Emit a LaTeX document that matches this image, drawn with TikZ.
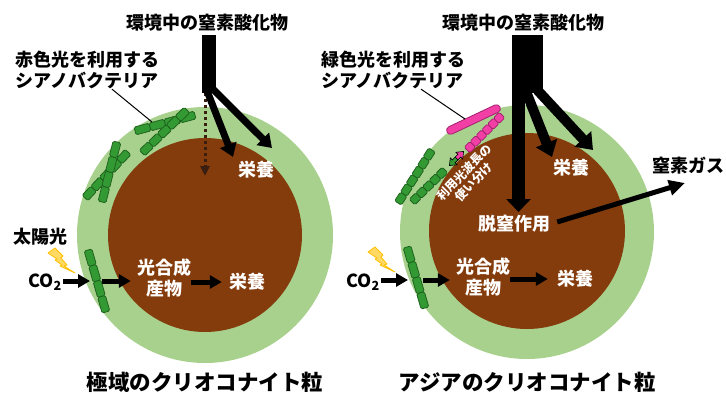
\documentclass[tikz,border=0pt]{standalone}
\usepackage{fontspec}
\setmainfont{Noto Sans CJK JP}
\usepackage{tikz}
\usetikzlibrary{arrows.meta,positioning,calc}

\definecolor{gelgreen}{HTML}{A9D18E}
\definecolor{grainbrown}{HTML}{843C0C}
\definecolor{cellgreen}{HTML}{339933}
\definecolor{celledge}{HTML}{1E641E}
\definecolor{cellpink}{HTML}{F23FA6}
\definecolor{pinkedge}{HTML}{A3226E}
\definecolor{boltyellow}{HTML}{FFD966}
\definecolor{boltedge}{HTML}{FFC000}
\definecolor{dotbrown}{HTML}{3A1E10}

% chain of cells from (#2,#3) to (#4,#5), #6 cells
\newcommand{\filament}[6][cellg]{%
  \pgfmathsetmacro\filang{atan2(#3-#5,#4-#2)}%
  \pgfmathsetmacro\fillen{veclen(#4-#2,#5-#3)/#6}%
  \begin{scope}[shift={(#2,#3)},rotate=\filang]
    \foreach \k in {1,...,#6}
      \draw[#1] ({(\k-1)*\fillen},-4) rectangle ({\k*\fillen},4);
  \end{scope}}

\begin{document}
\begin{tikzpicture}[x=1pt,y=-1pt,
  lbl/.style={font=\bfseries\fontsize{18}{21}\selectfont, inner sep=0pt},
  wlbl/.style={lbl, text=white},
  grainlbl/.style={font=\bfseries\fontsize{21.5}{24}\selectfont, inner sep=0pt},
  cellg/.style={fill=cellgreen, draw=celledge, line width=0.8pt, rounded corners=1.5pt},
  cellp/.style={fill=cellpink, draw=pinkedge, line width=0.8pt, rounded corners=1.5pt},
  rodp/.style={fill=cellpink, draw=pinkedge, line width=0.8pt, rounded corners=3.9pt},
  bar/.style={fill=black, inner sep=0pt, minimum height=58pt},
  lead/.style={draw, line width=1pt},
  sarr/.style={line width=5pt, -{Triangle[length=12pt,width=13pt]}},
  larr/.style={line width=7pt, -{Triangle[length=13pt,width=17pt]}},
  rarr/.style={line width=10pt, -{Triangle[length=15pt,width=22pt]}},
  darr/.style={line width=3pt, dotbrown, dash pattern=on 3pt off 3pt,
    -{Triangle[length=10pt,width=9pt]}},
  bolt/.style={fill=boltyellow, draw=boltedge, line width=0.8pt, line join=round}
]
\useasboundingbox (0,0) rectangle (726,394);

% cryoconite grains
\fill[gelgreen] (205,235) circle (128pt);
\fill[grainbrown] (205,235) circle (97pt);
\fill[gelgreen] (527,232) circle (127pt);
\fill[grainbrown] (527,231) circle (98pt);

% --- polar grain ---
\filament{135}{131}{195}{115}{4}
\filament{142}{153}{187}{110}{5}
\filament{85}{198}{128}{152}{5}
\filament{102}{202}{117}{142}{4}
\filament{88}{250}{106}{312}{4}

\node[lbl, align=left] (redcy) at (88,70) {赤色光を利用する\\シアノバクテリア};
\coordinate (redtip) at (152,122);
\draw[lead] ([xshift=24pt]redcy.south) -- (redtip);

\node[lbl] (envL) at (207,23) {環境中の窒素酸化物};
\node[bar, minimum width=14pt] (barL) at (209,64) {};
\coordinate (dotL) at (205,176);
\coordinate (tipL1) at (233,157);
\coordinate (tipL2) at (272,148);
\draw[darr] ([xshift=-4pt]barL.south) -- (dotL);
\draw[larr] ([xshift=-3pt,yshift=5pt]barL.south) -- (tipL1);
\draw[larr] ([xshift=3pt,yshift=5pt]barL.south) -- (tipL2);
\node[wlbl] (nutL1) at (256,170) {栄養};

\node[lbl] (sunL) at (40,237) {太陽光};
\draw[bolt] (48,253) -- (55,248) -- (63,256) -- (61,258) -- (67,265) -- (64,266)
  -- (75,273) -- (60,266) -- (62,265) -- (55,260) -- (57,259) -- cycle;
\node[lbl, anchor=base east] (co2L) at (62,287) {CO\textsubscript{2}};
\coordinate (finL) at (90,281);
\coordinate (foutL) at (102,281);
\node[wlbl, align=center] (photL) at (164,278) {光合成\\産物};
\node[wlbl] (nutL2) at (247,282) {栄養};
\draw[sarr] ([xshift=1pt]co2L.east |- finL) -- (finL);
\draw[sarr, shorten >=6pt] (foutL) -- (foutL -| photL.west);
\draw[sarr, shorten >=7pt] (photL.east |- nutL2) -- (nutL2.west);

\node[grainlbl] (capL) at (205,382) {極域のクリオコナイト粒};

% --- asian grain ---
\filament[rodp]{447}{132}{500}{107}{1}
\filament[cellp]{467}{150}{502}{115}{6}
\filament{398}{203}{432}{150}{6}
\filament{412}{202}{445}{170}{5}
\filament{407}{247}{425}{308}{4}

\node[lbl, align=left] (greency) at (393,70) {緑色光を利用する\\シアノバクテリア};
\coordinate (greentip) at (465,119);
\draw[lead] ([xshift=28pt]greency.south) -- (greentip);

% light wavelength switch
\begin{scope}[shift={(456.5,158.5)},rotate=45]
  \filldraw[fill=cellpink, draw=black, line width=0.6pt]
    (0,-2) -- (4,-2) -- (4,-4.8) -- (10,0) -- (4,4.8) -- (4,2) -- (0,2) -- cycle;
  \filldraw[fill=cellgreen, draw=black, line width=0.6pt]
    (0,-2) -- (-4,-2) -- (-4,-4.8) -- (-10,0) -- (-4,4.8) -- (-4,2) -- (0,2) -- cycle;
\end{scope}
\node[text=white, font=\bfseries\fontsize{12}{13.5}\selectfont, inner sep=0pt,
  align=center, rotate=46] (split) at (469,177) {利用光波長の\\使い分け};

\node[lbl] (envR) at (523,23) {環境中の窒素酸化物};
\node[bar, minimum width=31pt] (barR) at (527.5,64) {};
\node[wlbl] (denit) at (514,224) {脱窒作用};
\coordinate (dnR) at (518.5,212);
\coordinate (tipR1) at (552,157);
\coordinate (tipR2) at (593,150);
\draw[line width=13pt, -{Triangle[length=13pt,width=24pt]}]
  ([xshift=-9pt,yshift=2pt]barR.south) -- (dnR);
\draw[rarr] ([xshift=-2pt,yshift=3pt]barR.south) -- (tipR1);
\draw[rarr] ([xshift=10pt,yshift=3pt]barR.south) -- (tipR2);
\node[wlbl] (nutR1) at (571,168) {栄養};

\node[lbl] (gas) at (688,166) {窒素ガス};
\coordinate (gastip) at (685,183);
\draw[line width=5pt, -{Triangle[length=16pt,width=15pt]}]
  ([xshift=7pt,yshift=2pt]denit.east) -- (gastip);

\draw[bolt] (368,252) -- (375,247) -- (383,255) -- (381,257) -- (387,264) -- (384,265)
  -- (395,272) -- (380,265) -- (382,264) -- (375,259) -- (377,258) -- cycle;
\node[lbl, anchor=base east] (co2R) at (380,287) {CO\textsubscript{2}};
\coordinate (finR) at (408,280);
\coordinate (foutR) at (423,280);
\node[wlbl, align=center] (photR) at (483,277) {光合成\\産物};
\node[wlbl] (nutR2) at (575,279) {栄養};
\draw[sarr] ([xshift=1pt]co2R.east |- finR) -- (finR);
\draw[sarr, shorten >=6pt] (foutR) -- (foutR -| photR.west);
\draw[sarr, shorten >=9pt] (photR.east |- nutR2) -- (nutR2.west);

\node[grainlbl] (capR) at (527,382) {アジアのクリオコナイト粒};
\end{tikzpicture}
\end{document}
